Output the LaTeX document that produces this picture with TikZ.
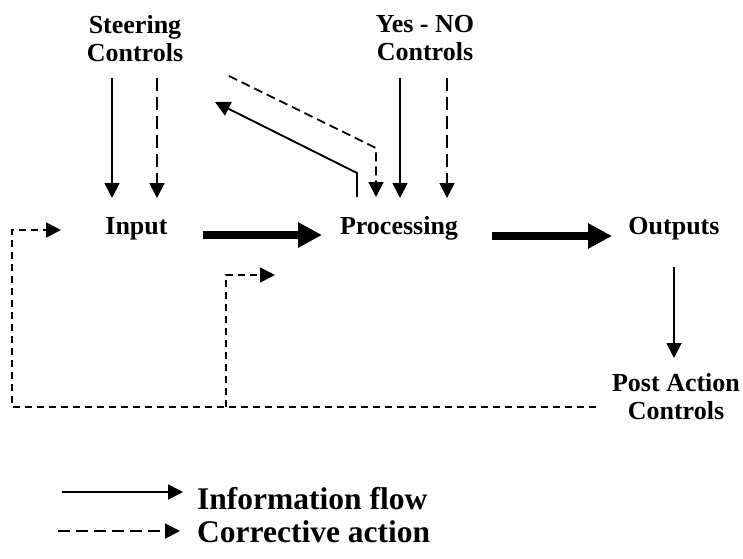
\documentclass[tikz,border=0pt]{standalone}
\usepackage{fontspec}
\setmainfont{Liberation Serif}
\usetikzlibrary{arrows.meta}
\begin{document}
\begin{tikzpicture}[x=1pt,y=-1pt,
  lbl/.style={font=\fontsize{26}{28}\selectfont\bfseries, inner sep=0pt, align=center},
  leg/.style={font=\fontsize{31.5}{34}\selectfont\bfseries, inner sep=0pt, anchor=base west},
  tip/.style={-{Triangle[length=15pt,width=15pt]}},
  info/.style={line width=1.8pt, tip},
  corr/.style={line width=1.8pt, dash pattern=on 13pt off 6pt, tip},
  corrdiag/.style={line width=1.8pt, dash pattern=on 9pt off 5pt, tip},
  corrloop/.style={line width=1.8pt, dash pattern=on 7pt off 5pt, tip},
  bigflow/.style={line width=8pt, -{Triangle[length=24pt,width=24pt]}}]
\useasboundingbox (0,0) rectangle (743,558);

% labels
\node[lbl, anchor=north] (steer) at (135,15) {Steering\\Controls};
\node[lbl, anchor=north] (yesno) at (425,15) {Yes - NO\\Controls};
\node[lbl, anchor=base] (input) at (136.5,234) {Input};
\node[lbl, anchor=base] (proc) at (399,234) {Processing};
\node[lbl, anchor=base] (outp) at (674,234) {Outputs};
\node[lbl, anchor=north] (post) at (676,373) {Post Action\\Controls};

% connector end points
\coordinate (s1a) at (112,78);  \coordinate (s1b) at (112,198);
\coordinate (s2a) at (157,78);  \coordinate (s2b) at (157,198);
\coordinate (y1a) at (400,78);  \coordinate (y1b) at (400,198);
\coordinate (y2a) at (447,78);  \coordinate (y2b) at (447,198);
\coordinate (fbA) at (229,76);  \coordinate (fbB) at (376,148); \coordinate (fbC) at (376,197);
\coordinate (upA) at (357,197); \coordinate (upB) at (357,173); \coordinate (upC) at (215,102);
\coordinate (t1a) at (203,235); \coordinate (t1b) at (322,235);
\coordinate (t2a) at (492,236); \coordinate (t2b) at (612,236);
\coordinate (oa) at (674,267);  \coordinate (ob) at (674,358);
\coordinate (pa) at (596,407);  \coordinate (pb) at (12,407);
\coordinate (pc) at (12,230);   \coordinate (pd) at (61,230);
\coordinate (qa) at (226,407);  \coordinate (qb) at (226,275); \coordinate (qc) at (275,275);

% control signals into input and processing
\draw[info] (s1a) -- (s1b);
\draw[corr] (s2a) -- (s2b);
\draw[info] (y1a) -- (y1b);
\draw[corr] (y2a) -- (y2b);
\draw[corrdiag] (fbA) -- (fbB) -- (fbC);
\draw[info] (upA) -- (upB) -- (upC);

% main flow
\draw[bigflow] (t1a) -- (t1b);
\draw[bigflow] (t2a) -- (t2b);
\draw[info] (oa) -- (ob);

% corrective feedback from post action controls
\draw[corrloop] (pa) -- (pb) -- (pc) -- (pd);
\draw[corrloop] (qa) -- (qb) -- (qc);

% legend
\coordinate (la) at (62,492);  \coordinate (lb) at (183,492);
\coordinate (lc) at (58,531);  \coordinate (ld) at (180,531);
\draw[info] (la) -- (lb);
\draw[line width=1.8pt, dash pattern=on 12pt off 6pt, tip] (lc) -- (ld);
\node[leg] (legi) at (197,509) {Information flow};
\node[leg] (legc) at (197,542) {Corrective action};
\end{tikzpicture}
\end{document}
